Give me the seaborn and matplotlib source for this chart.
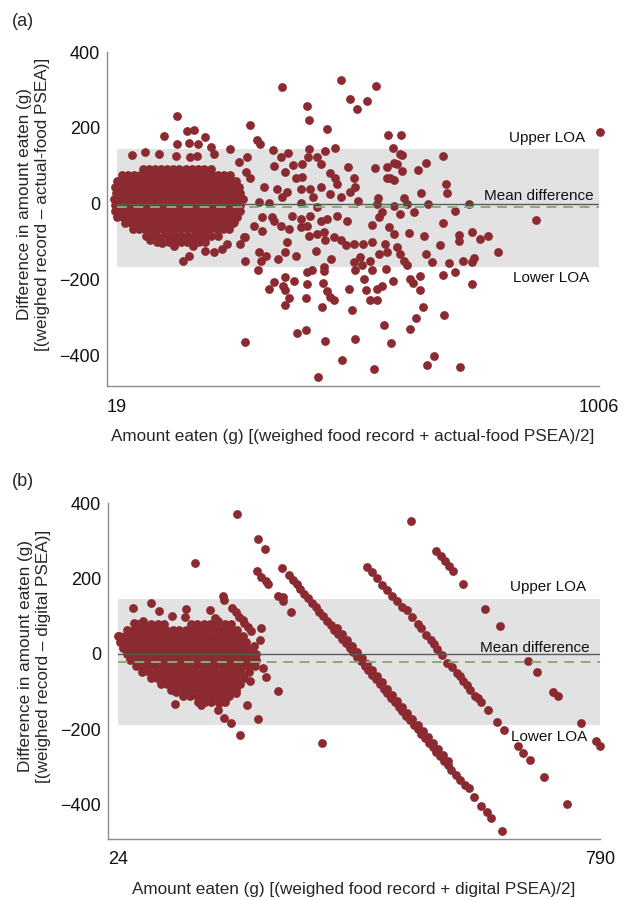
"""Bland-Altman plots: weighed food record vs actual-food and digital PSEA."""

import matplotlib.pyplot as plt
import pandas as pd
import seaborn as sns

sns.set_style("white")
plt.rcParams["font.family"] = ["Liberation Sans", "DejaVu Sans"]

DOT_COLOR = "#8b2a31"
BAND_COLOR = "#e2e2e2"
MEAN_COLOR = "#8eaa72"
ZERO_COLOR = "#5a5a5a"
AXIS_COLOR = "#8c8c8c"

# ---------------- panel (a): actual-food PSEA ----------------
a_xticks = [19, 1006]
a_yticks = [-400, -200, 0, 200, 400]
a_upper_loa, a_mean_diff, a_lower_loa = 145, -10, -166

# dense cloud of small meals: one row of marks per difference level
a_core_levels = [92, 76, 60, 44, 28, 12, -4, -20, -36, -52, -68, -84, -100]
a_core_rows = [
    [72, 85, 97, 110, 122, 134, 147, 160, 172, 185, 198, 212],
    [30, 42, 54, 66, 79, 91, 103, 115, 127, 140, 152, 164, 177, 189, 201, 214, 226, 238, 250],
    [20, 32, 44, 57, 69, 81, 93, 106, 118, 130, 142, 155, 167, 179, 191, 204, 216, 228, 240, 252, 263],
    [15, 27, 39, 51, 63, 76, 88, 100, 112, 124, 137, 149, 161, 173, 185, 198, 210, 222, 234, 246, 258, 269],
    [18, 30, 42, 54, 67, 79, 91, 103, 115, 128, 140, 152, 164, 176, 189, 201, 213, 225, 237, 249, 261, 272],
    [13, 25, 37, 49, 61, 74, 86, 98, 110, 122, 135, 147, 159, 171, 183, 196, 208, 220, 232, 244, 256, 268, 278],
    [16, 28, 40, 52, 65, 77, 89, 101, 113, 126, 138, 150, 162, 174, 187, 199, 211, 223, 235, 247, 260, 272],
    [15, 27, 39, 51, 63, 76, 88, 100, 112, 124, 137, 149, 161, 173, 185, 198, 210, 222, 234, 246, 258, 270],
    [20, 32, 44, 57, 69, 81, 93, 106, 118, 130, 142, 155, 167, 179, 191, 204, 216, 228, 240, 252, 264],
    [36, 48, 60, 72, 85, 97, 109, 121, 133, 146, 158, 170, 182, 194, 207, 219, 231, 243, 256],
    [52, 64, 76, 88, 101, 113, 125, 137, 149, 162, 174, 186, 198, 210, 223, 236, 248],
    [78, 90, 102, 115, 127, 139, 151, 163, 176, 188, 200, 212, 226],
    [102, 114, 126, 138, 150, 163, 175, 188, 200],
]

# individually visible marks
a_spread_x = [
    142, 116, 162, 176, 199, 142, 166, 186, 212, 251, 291, 306, 311, 358, 408, 413, 449, 477, 496, 511,
    466, 339, 354, 369, 340, 364, 379, 397, 413, 410, 429, 444, 436, 386, 398, 455, 466, 492, 504, 321,
    347, 367, 395, 415, 436, 357, 395, 421, 456, 470, 477, 497, 507, 309, 330, 429, 268, 285, 284, 292,
    218, 50, 76, 106, 140, 169, 183,
    87, 111, 135, 154, 166, 175, 200, 217, 234, 244, 272, 282, 282, 309, 325, 314, 308, 299, 316, 340,
    354, 371, 367, 349, 364, 386, 395, 408, 412, 429, 442, 427, 446, 463, 477, 487, 458, 442, 442, 408,
    419, 504, 504, 507, 340, 330, 364, 360, 381, 364, 371, 364, 408, 406, 441, 449, 456, 463, 439, 494,
    501, 388, 407, 282, 446, 507, 480, 430, 258, 261, 279, 316, 337, 378, 395, 415, 436, 449, 470, 490,
    549, 532, 573, 601, 584, 598, 603, 548, 572, 586, 592, 603, 571, 586, 579, 635, 651, 687, 692, 695,
    642, 607, 613, 553, 551, 586, 655, 739, 711, 1007, 512, 599, 627, 562,
    877, 687, 616, 647, 719, 719, 746, 762, 778, 681, 799, 651, 664, 698, 728, 746, 750, 712, 687, 746,
    620, 625, 640, 640, 584, 524, 528, 551, 562, 538, 551, 645, 689, 632, 618, 565, 581, 669, 654, 722,
    546, 541, 575, 586, 523, 541, 568, 592, 613, 606, 517, 538, 555, 572, 521, 541, 569, 599, 556,
]
a_spread_y = [
    232, 179, 192, 194, 176, 157, 161, 157, 150, 144, 208, 168, 157, 309, 258, 220, 197, 326, 275, 249,
    147, 141, 124, 133, 100, 84, 103, 105, 144, 122, 122, 140, 105, 69, 71, 80, 69, 96, 69, 45,
    39, 30, 39, 39, 43, 17, 1, 17, 26, 52, 17, 30, 43, 4, 1, -9, 109, 124, 83, 67,
    131, 129, 135, 131, 125, 122, 126,
    -96, -104, -113, -150, -137, -113, -124, -128, -119, -106, -106, -87, -150, -128, -137, -150, -175, -58, -71, -45,
    -58, -67, -102, -146, -128, -137, -62, -58, -84, -80, -75, -124, -96, -89, -97, -110, -146, -167, -178, -181,
    -175, -106, -154, -176, -207, -225, -194, -218, -205, -229, -248, -268, -213, -248, -210, -231, -245, -255, -273, -225,
    -280, -341, -332, -365, -362, -356, -413, -457, -49, -32, -87, -36, -34, -32, -40, -32, -45, -40, -32, -45,
    311, 271, 182, 181, 148, 131, 128, 94, 96, 106, 105, 87, 69, 62, 69, 89, 106, 125, 52, 27,
    27, 15, -2, 15, -1, -7, -2, -1, -20, 188, 8, -27, -23, -23,
    -42, -52, -78, -84, -82, -99, -75, -93, -84, -108, -128, -134, -154, -157, -152, -154, -143, -181, -189, -211,
    -198, -210, -190, -229, -204, -198, -229, -225, -218, -255, -255, -273, -293, -301, -330, -321, -367, -402, -426, -432,
    -435, -55, -62, -80, -106, -102, -106, -115, -163, -150, -141, -150, -132, -128, -163, -176, -172, -132, -36,
]

# ---------------- panel (b): digital PSEA ----------------
b_xticks = [24, 790]
b_yticks = [-400, -200, 0, 200, 400]
b_upper_loa, b_mean_diff, b_lower_loa = 146, -21, -189

b_core_levels = [80, 64, 48, 32, 16, 0, -16, -32, -48, -64, -80, -96, -112, -128]
b_core_rows = [
    [56, 66, 76, 88, 98, 140, 150, 160, 170, 182, 194, 204],
    [38, 48, 58, 69, 79, 90, 100, 111, 121, 132, 142, 153, 163, 174, 184, 195, 205, 214],
    [26, 36, 46, 57, 67, 78, 88, 99, 109, 120, 130, 141, 151, 162, 172, 183, 193, 204, 214, 222],
    [28, 38, 49, 59, 70, 80, 91, 101, 112, 122, 133, 143, 154, 164, 175, 185, 196, 206, 217, 228],
    [32, 42, 53, 63, 74, 84, 95, 105, 116, 126, 137, 147, 158, 168, 179, 189, 200, 210, 221, 231],
    [38, 48, 59, 69, 80, 90, 101, 111, 122, 132, 143, 153, 164, 174, 185, 195, 206, 216, 227, 237, 244],
    [44, 54, 65, 75, 86, 96, 107, 117, 128, 138, 149, 159, 170, 180, 191, 201, 212, 222, 233, 243],
    [53, 63, 74, 84, 95, 105, 116, 126, 137, 147, 158, 168, 179, 189, 200, 210, 221, 231, 242],
    [63, 73, 84, 94, 105, 115, 126, 136, 147, 157, 168, 178, 189, 199, 210, 220, 232],
    [76, 86, 97, 107, 118, 128, 139, 149, 160, 170, 181, 191, 202, 212, 224],
    [92, 102, 113, 123, 134, 144, 155, 165, 176, 186, 197, 207, 218],
    [108, 118, 129, 139, 150, 160, 171, 181, 192, 203, 212],
    [128, 138, 149, 159, 170, 180, 191, 200],
    [152, 162, 172, 184, 194],
]

# streaks of meals with the same weighed amount, plus loose marks
b_spread_x = [
    296, 302, 308, 314, 320, 326, 332, 338, 344, 350, 356, 362, 368, 374, 380, 386, 392, 398, 404, 410,
    416, 422, 428, 434, 440, 446, 452, 458, 464, 470, 476, 482, 488, 494, 500, 506, 512, 518, 524, 530,
    536, 542, 548, 554,
    372, 380, 388, 396, 404, 412, 420, 428, 436, 444, 452, 460, 468, 476, 484, 492, 500, 508, 516, 524,
    532, 540, 548,
    561, 568, 576, 582, 590, 601, 611, 617, 635, 213, 246, 258, 284,
    420, 428, 436, 444, 452, 460, 467, 476, 484, 492, 500, 505, 513, 521, 526, 531, 539, 547, 555, 563,
    567, 573, 579, 584, 592, 596, 601, 612, 627, 637, 659, 668, 678, 701, 737,
    490, 530, 537, 543, 550, 556, 573, 607, 631, 676, 690, 716, 724, 760, 783, 790,
    245, 252, 259, 263, 279, 287, 287, 299,
    191, 193, 206, 212, 217, 222, 225, 230, 235,
    147, 24, 48, 77, 89, 110, 132, 130, 50, 64, 171, 178, 183, 252, 249, 241,
    117, 115, 156, 185, 183, 193, 203, 218, 229, 247, 234, 260, 278, 348, 212, 201, 209, 222, 254, 241,
]
b_spread_y = [
    208, 196, 184, 172, 160, 148, 136, 124, 112, 100, 88, 76, 64, 52, 40, 28, 16, 4, -8, -20,
    -32, -44, -56, -68, -80, -92, -104, -116, -128, -140, -152, -164, -176, -188, -200, -212, -224, -236, -248, -260,
    -272, -284, -296, -308,
    68, 52, 36, 20, 4, -12, -28, -44, -60, -76, -92, -108, -124, -140, -156, -172, -188, -204, -220, -236,
    -252, -268, -284,
    -321, -335, -348, -357, -379, -403, -419, -436, -469, 371, 305, 279, 227,
    230, 216, 201, 183, 168, 154, 141, 124, 115, 97, 80, 68, 51, 36, 25, 13, -2, -24, -34, -51,
    -60, -71, -82, -96, -111, -118, -127, -149, -180, -202, -244, -264, -281, -326, -399,
    352, 272, 259, 245, 232, 220, 185, 120, 73, -20, -47, -100, -113, -184, -230, -244,
    221, 205, 192, 185, 154, 152, 139, 110,
    154, 143, 121, 110, 99, 89, 82, 71, 60,
    241, 46, 121, 135, 113, 101, 119, 99, 82, 88, 115, 95, 86, 68, 37, 20,
    -100, -134, -135, -131, -149, -171, -184, -216, -137, -173, -73, -62, -98, -236, -104, -104, -87, -25, -38, -16,
]


def build_frame(levels, rows, spread_x, spread_y):
    xs = [x for row in rows for x in row] + spread_x
    ys = [lvl for lvl, row in zip(levels, rows) for _ in row] + spread_y
    return pd.DataFrame({"mean": xs, "diff": ys})


def draw_panel(ax, df, xticks, yticks, ylim, upper, mean, lower, xlabel, ylabel, notes):
    ax.fill_between(xticks, lower, upper, color=BAND_COLOR, lw=0, zorder=0)
    sns.scatterplot(data=df, x="mean", y="diff", ax=ax, color=DOT_COLOR, s=40,
                    linewidth=0, zorder=2, clip_on=False, legend=False)
    ax.plot(xticks, [0, 0], color=ZERO_COLOR, lw=1, zorder=3)
    ax.plot(xticks, [mean, mean], color=MEAN_COLOR, lw=1.4, ls=(0, (5, 3.5)), zorder=3)

    for text, x, y in notes:
        ax.text(x, y, text, ha="right", va="center", fontsize=11, color="#111111")

    pad = (xticks[1] - xticks[0]) * 0.0205
    ax.set_xlim(xticks[0] - pad, xticks[1])
    ax.set_ylim(*ylim)
    ax.set_xticks(xticks)
    ax.set_yticks(yticks)
    ax.tick_params(axis="both", direction="in", length=4, width=1, color=AXIS_COLOR,
                   labelsize=13, labelcolor="#111111")
    ax.tick_params(axis="x", pad=9)
    ax.tick_params(axis="y", pad=5)
    sns.despine(ax=ax)
    for side in ("left", "bottom"):
        ax.spines[side].set_color(AXIS_COLOR)
        ax.spines[side].set_linewidth(1)

    ax.set_xlabel(xlabel, fontsize=12.3, labelpad=10)
    ax.set_ylabel(ylabel, fontsize=12.3, linespacing=1.25)
    ax.yaxis.set_label_coords(-0.116, 0.545)


def main():
    fig = plt.figure(figsize=(6.24, 9), dpi=100)
    ax_a = fig.add_axes([0.1715, 0.5711, 0.7885, 0.3711])
    ax_b = fig.add_axes([0.1731, 0.0678, 0.7885, 0.3733])

    draw_panel(
        ax_a, build_frame(a_core_levels, a_core_rows, a_spread_x, a_spread_y),
        a_xticks, a_yticks, (-481, 400), a_upper_loa, a_mean_diff, a_lower_loa,
        "Amount eaten (g) [(weighed food record + actual-food PSEA)/2]",
        "Difference in amount eaten (g)\n[(weighed record \u2013 actual-food PSEA)]",
        [("Upper LOA", 977, 174), ("Mean difference", 994, 21), ("Lower LOA", 986, -197)],
    )
    draw_panel(
        ax_b, build_frame(b_core_levels, b_core_rows, b_spread_x, b_spread_y),
        b_xticks, b_yticks, (-491, 400), b_upper_loa, b_mean_diff, b_lower_loa,
        "Amount eaten (g) [(weighed food record + digital PSEA)/2]",
        "Difference in amount eaten (g)\n[(weighed record \u2013 digital PSEA)]",
        [("Upper LOA", 768, 178), ("Mean difference", 773, 16), ("Lower LOA", 769, -220)],
    )

    fig.text(12 / 624, 1 - 22 / 900, "(a)", fontsize=13, va="center")
    fig.text(12 / 624, 1 - 482 / 900, "(b)", fontsize=13, va="center")

    fig.savefig("out.png", dpi=100)


if __name__ == "__main__":
    main()
